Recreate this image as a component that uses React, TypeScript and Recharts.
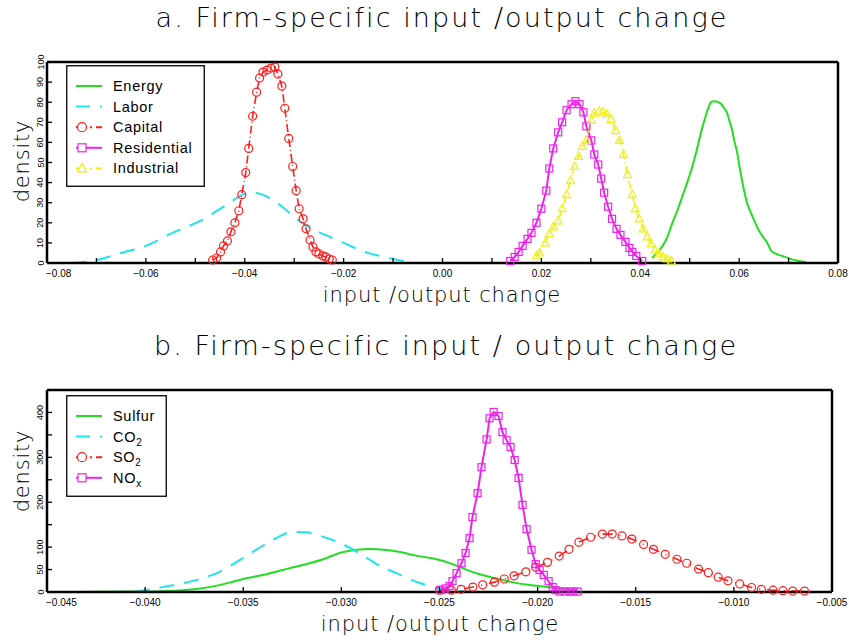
import React from 'react'
import { LineChart, Line, XAxis, YAxis, Legend } from 'recharts'

type Pt = { x: number; y: number }
const toPts = (rows: number[][]): Pt[] => rows.map(([x, y]) => ({ x, y }))

// panel a: input / output change vs density
const energy = toPts([
  [0.0424, 2.5], [0.0434, 5], [0.0444, 8], [0.0455, 13], [0.0465, 20], [0.0475, 26],
  [0.0485, 33], [0.0495, 40], [0.0503, 46], [0.0513, 55], [0.0523, 65], [0.0531, 72],
  [0.0539, 78], [0.0543, 80], [0.0550, 80.5], [0.0558, 80], [0.0564, 79], [0.0570, 77],
  [0.0576, 74.5], [0.0580, 71], [0.0586, 66], [0.0590, 61], [0.0596, 55], [0.0600, 49],
  [0.0606, 41], [0.0610, 36], [0.0616, 30], [0.0622, 26], [0.0630, 21.5], [0.0638, 17],
  [0.0647, 13.5], [0.0657, 10], [0.0665, 6], [0.0675, 4.5], [0.0687, 3.5], [0.0697, 2.7],
  [0.0707, 1.8], [0.0721, 1], [0.0735, 0.5],
])
const labor = toPts([
  [-0.0751, 0], [-0.07, 1.5], [-0.065, 5], [-0.06, 8.5], [-0.0546, 15], [-0.049, 21],
  [-0.043, 30], [-0.04, 34.5], [-0.0385, 35], [-0.037, 34.5], [-0.0335, 30], [-0.031, 25],
  [-0.0285, 20], [-0.0255, 16], [-0.0228, 13], [-0.0195, 9.5], [-0.0168, 6.5],
  [-0.0127, 3.5], [-0.009, 1.5], [-0.0057, 0],
])
const capital = toPts([
  [-0.0465, 1.5], [-0.0457, 2.5], [-0.0449, 5.5], [-0.0443, 8.5], [-0.0435, 11],
  [-0.0428, 15.5], [-0.042, 20], [-0.0412, 26], [-0.0406, 34], [-0.0398, 45], [-0.0392, 57],
  [-0.0384, 73], [-0.0376, 85], [-0.037, 92], [-0.0363, 95], [-0.0355, 96], [-0.0347, 97],
  [-0.0339, 97.5], [-0.0333, 94], [-0.0325, 88], [-0.0319, 77], [-0.0311, 62], [-0.0303, 48],
  [-0.0296, 36], [-0.029, 27], [-0.0282, 22], [-0.0276, 17], [-0.0268, 11.5], [-0.0262, 8],
  [-0.0256, 5.5], [-0.025, 4.5], [-0.0242, 3.5], [-0.0236, 3], [-0.0229, 2], [-0.0223, 1.5],
])
const residential = toPts([
  [0.0137, 1], [0.0146, 3], [0.0154, 5.5], [0.0162, 8.5], [0.0172, 12], [0.018, 15],
  [0.019, 20], [0.02, 27], [0.021, 36], [0.0216, 47], [0.0224, 57], [0.0234, 65],
  [0.0242, 70], [0.0251, 76], [0.0261, 79], [0.0269, 80.5], [0.0277, 79], [0.0285, 75],
  [0.0291, 68], [0.0301, 61], [0.0307, 54], [0.0315, 49], [0.0321, 42], [0.0327, 35],
  [0.0335, 28], [0.0343, 22], [0.0352, 17], [0.036, 14], [0.037, 10.5], [0.0378, 7.5],
  [0.0384, 5.5], [0.0392, 3.5], [0.0404, 1],
])
const industrial = toPts([
  [0.019, 3.5], [0.0196, 5], [0.0208, 10], [0.0216, 14.5], [0.0224, 18], [0.0234, 21],
  [0.0242, 27], [0.0251, 34], [0.0259, 41], [0.0267, 48], [0.0275, 53], [0.0283, 58],
  [0.0291, 61], [0.0301, 71], [0.0307, 74.5], [0.0317, 75.5], [0.0325, 75], [0.0333, 74],
  [0.0341, 71.5], [0.035, 66], [0.0358, 61], [0.0366, 54], [0.0374, 44], [0.0384, 34],
  [0.039, 27], [0.0398, 22], [0.0406, 17], [0.0414, 13], [0.0422, 9.5], [0.043, 6.5],
  [0.0438, 4.5], [0.0447, 3], [0.0455, 2], [0.0463, 1],
])

// panel b
const sulfur = toPts([
  [-0.0435, 0], [-0.042, 0.3], [-0.04, 1], [-0.0385, 3], [-0.0375, 6], [-0.0366, 12],
  [-0.0356, 22], [-0.035, 29], [-0.034, 38], [-0.033, 49], [-0.032, 60], [-0.031, 72],
  [-0.03, 88], [-0.0292, 94], [-0.0285, 96], [-0.0278, 94], [-0.027, 89], [-0.0262, 81],
  [-0.0254, 75], [-0.0246, 66], [-0.024, 56], [-0.023, 40], [-0.022, 29], [-0.0213, 22],
  [-0.0205, 16], [-0.0195, 11], [-0.0187, 7], [-0.018, 4],
])
const co2 = toPts([
  [-0.0418, 0], [-0.041, 1], [-0.04, 4], [-0.039, 12], [-0.038, 20], [-0.0372, 29],
  [-0.0362, 45], [-0.035, 76], [-0.034, 103], [-0.0332, 123], [-0.0325, 134], [-0.0318, 133],
  [-0.031, 124], [-0.03, 108], [-0.029, 84], [-0.0282, 62], [-0.0272, 42], [-0.026, 20],
  [-0.025, 8], [-0.0242, 3], [-0.0232, 1],
])
const so2 = toPts([
  [-0.025, 4], [-0.0244, 4], [-0.0239, 6], [-0.0233, 11], [-0.0228, 16], [-0.0222, 22],
  [-0.0217, 29], [-0.0212, 36], [-0.0206, 45], [-0.0201, 55], [-0.0195, 66], [-0.0189, 80],
  [-0.0184, 95], [-0.0179, 111], [-0.0173, 122], [-0.0167, 129], [-0.0162, 129],
  [-0.0157, 125], [-0.0152, 118], [-0.0146, 106], [-0.0141, 95], [-0.0135, 84], [-0.0129, 73],
  [-0.0124, 64], [-0.0118, 51], [-0.0113, 43], [-0.0108, 33], [-0.0103, 25], [-0.0097, 18],
  [-0.0091, 10], [-0.0086, 6], [-0.008, 4], [-0.0075, 3], [-0.007, 2], [-0.0064, 2],
])
const nox = toPts([
  [-0.02495, 4], [-0.02469, 8], [-0.02449, 13], [-0.02434, 24], [-0.02413, 42],
  [-0.02388, 64], [-0.02367, 87], [-0.02347, 120], [-0.02332, 167], [-0.02306, 220],
  [-0.02286, 278], [-0.0226, 340], [-0.02245, 387], [-0.02224, 401], [-0.02199, 392],
  [-0.02179, 356], [-0.02158, 338], [-0.02138, 323], [-0.02117, 294], [-0.02097, 254],
  [-0.02077, 194], [-0.02056, 140], [-0.02031, 94], [-0.0201, 62], [-0.0199, 49],
  [-0.01969, 38], [-0.01944, 24], [-0.01923, 11], [-0.01908, 4], [-0.01888, 1],
  [-0.01862, 1], [-0.01837, 1], [-0.01816, 1], [-0.01796, 1],
])

// ticks
const xTicksA = [-0.08, -0.07, -0.06, -0.05, -0.04, -0.03, -0.02, -0.01, 0, 0.01, 0.02, 0.03, 0.04, 0.05, 0.06, 0.07, 0.08]
const xLabelsA = [-0.08, -0.06, -0.04, -0.02, 0, 0.02, 0.04, 0.06, 0.08]
const yTicksA = [0, 10, 20, 30, 40, 50, 60, 70, 80, 90, 100]
const xTicksB = [-0.045, -0.04, -0.035, -0.03, -0.025, -0.02, -0.015, -0.01, -0.005]
const yTicksB = [0, 50, 100, 150, 200, 250, 300, 350, 400]
const yLabelsB = [0, 50, 100, 200, 300, 400]

const GREEN = '#22dd22'
const CYAN = '#1ee4ee'
const RED = '#ff1c1c'
const MAGENTA = '#ee22ee'
const YELLOW = '#f0f014'

const TICK = 5
const AX = 2.5
const tickFont = '"Liberation Sans", Arial, sans-serif'
const has = (arr: number[], v: number) => arr.some((a) => Math.abs(a - v) < 1e-9)
const fmtNum = (v: number, d: number) => (v < 0 ? '\u2212' : '') + Math.abs(v).toFixed(d)

const bottomTick = (labels: number[], digits: number, first: number) => (p: any) => {
  const v = p.payload.value
  const isFirst = Math.abs(v - first) < 1e-9
  return (
    <g key={`b${p.index}`}>
      <line x1={p.x} y1={p.y} x2={p.x} y2={p.y - TICK} stroke="#000" strokeWidth={1.3} />
      {has(labels, v) && (
        <text x={isFirst ? p.x - 1 : p.x} y={p.y + 14} textAnchor={isFirst ? 'start' : 'middle'}
          fontSize={10} fontFamily={tickFont} fill="#000">{fmtNum(v, digits)}</text>
      )}
    </g>
  )
}
const topTick = (p: any) => (
  <line key={`t${p.index}`} x1={p.x} y1={p.y} x2={p.x} y2={p.y + TICK} stroke="#000" strokeWidth={1.3} />
)
const leftTick = (labels: number[]) => (p: any) => {
  const v = p.payload.value
  const bx = p.x - 3.5
  return (
    <g key={`l${p.index}`}>
      <line x1={p.x} y1={p.y} x2={p.x + TICK} y2={p.y} stroke="#000" strokeWidth={1.3} />
      {has(labels, v) && (
        <text x={bx} y={p.y} transform={`rotate(-90 ${bx} ${p.y})`} textAnchor="middle"
          fontSize={9} fontFamily={tickFont} fill="#000">{v}</text>
      )}
    </g>
  )
}
const rightTick = (p: any) => (
  <line key={`r${p.index}`} x1={p.x} y1={p.y} x2={p.x - TICK} y2={p.y} stroke="#000" strokeWidth={1.3} />
)

const circleDot = (color: string) => (p: any) => (
  <circle key={`c${p.index}`} cx={p.cx} cy={p.cy} r={4} fill="none" stroke={color} strokeWidth={1.2} />
)
const squareDot = (color: string) => (p: any) => (
  <rect key={`s${p.index}`} x={p.cx - 3.5} y={p.cy - 3.5} width={7} height={7} fill="none" stroke={color} strokeWidth={1.2} />
)
const triDot = (color: string) => (p: any) => (
  <polygon key={`t${p.index}`} points={`${p.cx},${p.cy - 4.5} ${p.cx - 4},${p.cy + 3} ${p.cx + 4},${p.cy + 3}`}
    fill="none" stroke={color} strokeWidth={1.2} />
)

type Item = { name: React.ReactNode; color: string; dash?: string; marker?: 'circle' | 'square' | 'tri' }

const LegendBox = ({ items, w, h }: { items: Item[]; w: number; h: number }) => (
  <svg width={w} height={h} style={{ display: 'block' }}>
    <rect x={0.75} y={0.75} width={w - 1.5} height={h - 1.5} fill="#fff" stroke="#000" strokeWidth={1.3} />
    {items.map((it, i) => {
      const cy = 21 + i * 20.6
      return (
        <g key={i}>
          <line x1={10} y1={cy} x2={36} y2={cy} stroke={it.color} strokeWidth={2} strokeDasharray={it.dash} />
          {it.marker === 'circle' && <circle cx={16} cy={cy} r={4.5} fill="#fff" stroke={it.color} strokeWidth={1.2} />}
          {it.marker === 'square' && <rect x={12} y={cy - 4} width={8} height={8} fill="#fff" stroke={it.color} strokeWidth={1.2} />}
          {it.marker === 'tri' && (
            <polygon points={`16,${cy - 5} 11.5,${cy + 3.5} 20.5,${cy + 3.5}`} fill="#fff" stroke={it.color} strokeWidth={1.2} />
          )}
          <text x={47} y={cy + 5} fontSize={14.5} letterSpacing={0.7} fontFamily={tickFont} fill="#000">{it.name}</text>
        </g>
      )
    })}
  </svg>
)

const itemsA: Item[] = [
  { name: 'Energy', color: GREEN },
  { name: 'Labor', color: CYAN, dash: '14 10 3 10' },
  { name: 'Capital', color: RED, dash: '10 4 2 4', marker: 'circle' },
  { name: 'Residential', color: MAGENTA, marker: 'square' },
  { name: 'Industrial', color: YELLOW, dash: '10 4 2 4', marker: 'tri' },
]
const itemsB: Item[] = [
  { name: 'Sulfur', color: GREEN },
  { name: <tspan>CO<tspan dy={4} fontSize={10}>2</tspan></tspan>, color: CYAN, dash: '14 10 3 10' },
  { name: <tspan>SO<tspan dy={4} fontSize={10}>2</tspan></tspan>, color: RED, dash: '10 4 2 4', marker: 'circle' },
  { name: <tspan>NO<tspan dy={4} fontSize={10}>x</tspan></tspan>, color: MAGENTA, marker: 'square' },
]

const titleFont = '"DejaVu Sans", sans-serif'

export default function App() {
  return (
    <div style={{ position: 'absolute', left: 0, top: 0, width: 849, height: 641, background: '#fff' }}>
      <div style={{ position: 'absolute', left: 0, top: 0 }}>
        <LineChart width={849} height={320} margin={{ top: 61, right: 10, bottom: 27, left: 17 }}>
          <XAxis dataKey="x" type="number" domain={[-0.08, 0.08]} ticks={xTicksA} interval={0}
            height={30} tickSize={0} tickMargin={0} tickLine={false}
            axisLine={{ stroke: '#000', strokeWidth: AX }} tick={bottomTick(xLabelsA, 2, -0.08)} />
          <XAxis xAxisId="top" orientation="top" dataKey="x" type="number" domain={[-0.08, 0.08]} ticks={xTicksA}
            interval={0} height={1} tickSize={0} tickMargin={0} tickLine={false}
            axisLine={{ stroke: '#000', strokeWidth: AX }} tick={topTick} />
          <YAxis type="number" domain={[0, 100]} ticks={yTicksA} interval={0} width={30}
            tickSize={0} tickMargin={0} tickLine={false}
            axisLine={{ stroke: '#000', strokeWidth: AX }} tick={leftTick(yTicksA)} />
          <YAxis yAxisId="right" orientation="right" type="number" domain={[0, 100]} ticks={yTicksA} interval={0}
            width={1} tickSize={0} tickMargin={0} tickLine={false}
            axisLine={{ stroke: '#000', strokeWidth: AX }} tick={rightTick} />
          <Line data={energy} dataKey="y" type="monotone" stroke={GREEN} strokeWidth={2} dot={false} isAnimationActive={false} />
          <Line data={labor} dataKey="y" type="monotone" stroke={CYAN} strokeWidth={2} strokeDasharray="15 10" dot={false} isAnimationActive={false} />
          <Line data={capital} dataKey="y" type="linear" stroke={RED} strokeWidth={1.6} strokeDasharray="8 3 1 3" dot={circleDot(RED)} isAnimationActive={false} />
          <Line data={residential} dataKey="y" type="linear" stroke={MAGENTA} strokeWidth={2} dot={squareDot(MAGENTA)} isAnimationActive={false} />
          <Line data={industrial} dataKey="y" type="linear" stroke={YELLOW} strokeWidth={1.6} strokeDasharray="8 3 1 3" dot={triDot(YELLOW)} isAnimationActive={false} />
          <Legend layout="horizontal" verticalAlign="middle" align="center"
            wrapperStyle={{ left: 66, top: 65, width: 139, height: 122 }}
            content={() => <LegendBox items={itemsA} w={139} h={122} />} />
        </LineChart>
      </div>
      <div style={{ position: 'absolute', left: 0, top: 320 }}>
        <LineChart width={849} height={321} margin={{ top: 69, right: 16, bottom: 19, left: 17 }}>
          <XAxis dataKey="x" type="number" domain={[-0.045, -0.005]} ticks={xTicksB} interval={0}
            height={30} tickSize={0} tickMargin={0} tickLine={false}
            axisLine={{ stroke: '#000', strokeWidth: AX }} tick={bottomTick(xTicksB, 3, -0.045)} />
          <XAxis xAxisId="top" orientation="top" dataKey="x" type="number" domain={[-0.045, -0.005]} ticks={xTicksB}
            interval={0} height={1} tickSize={0} tickMargin={0} tickLine={false}
            axisLine={{ stroke: '#000', strokeWidth: AX }} tick={topTick} />
          <YAxis type="number" domain={[0, 450]} ticks={yTicksB} interval={0} width={30}
            tickSize={0} tickMargin={0} tickLine={false}
            axisLine={{ stroke: '#000', strokeWidth: AX }} tick={leftTick(yLabelsB)} />
          <YAxis yAxisId="right" orientation="right" type="number" domain={[0, 450]} ticks={yTicksB} interval={0}
            width={1} tickSize={0} tickMargin={0} tickLine={false}
            axisLine={{ stroke: '#000', strokeWidth: AX }} tick={rightTick} />
          <Line data={sulfur} dataKey="y" type="monotone" stroke={GREEN} strokeWidth={2} dot={false} isAnimationActive={false} />
          <Line data={co2} dataKey="y" type="monotone" stroke={CYAN} strokeWidth={2} strokeDasharray="15 10" dot={false} isAnimationActive={false} />
          <Line data={so2} dataKey="y" type="linear" stroke={RED} strokeWidth={1.6} strokeDasharray="10 7 1 7" dot={circleDot(RED)} isAnimationActive={false} />
          <Line data={nox} dataKey="y" type="linear" stroke={MAGENTA} strokeWidth={2} dot={squareDot(MAGENTA)} isAnimationActive={false} />
          <Legend layout="horizontal" verticalAlign="middle" align="center"
            wrapperStyle={{ left: 66, top: 75, width: 101, height: 102 }}
            content={() => <LegendBox items={itemsB} w={101} h={102} />} />
        </LineChart>
      </div>
      <svg width={849} height={641} style={{ position: 'absolute', left: 0, top: 0, pointerEvents: 'none' }}>
        <g fontFamily={titleFont} fontWeight={200} fill="#000">
          <text x={442} y={27} fontSize={27} textAnchor="middle" letterSpacing={2.1}>a. Firm-specific input /output change</text>
          <text x={442} y={302} fontSize={21} textAnchor="middle" letterSpacing={0.9}>input /output change</text>
          <text x={29} y={161} fontSize={21} textAnchor="middle" transform="rotate(-90 29 161)" letterSpacing={0.8}>density</text>
          <text x={446} y={355} fontSize={27} textAnchor="middle" letterSpacing={2.1}>b. Firm-specific input / output change</text>
          <text x={440} y={631} fontSize={21} textAnchor="middle" letterSpacing={0.9}>input /output change</text>
          <text x={29} y={471} fontSize={21} textAnchor="middle" transform="rotate(-90 29 471)" letterSpacing={0.8}>density</text>
        </g>
      </svg>
    </div>
  )
}
